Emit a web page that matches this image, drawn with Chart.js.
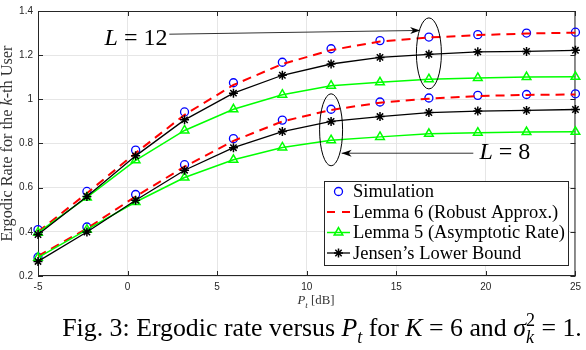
<!DOCTYPE html>
<html>
<head>
<meta charset="utf-8">
<script src="https://cdn.jsdelivr.net/npm/chart.js"></script>
<style>
  body { margin: 0; background: #fff; }
  #wrap { width: 586px; height: 350px; }
</style>
</head>
<body>
<div id="wrap"><canvas id="rateChart" width="586" height="350"></canvas></div>
<script>
// P_t sample points (dB)
const pt = [-5, -2.27, 0.45, 3.18, 5.91, 8.64, 11.36, 14.09, 16.82, 19.55, 22.27, 25];

// L = 12
const simL12 = [0.410, 0.583, 0.770, 0.943, 1.075, 1.168, 1.229, 1.266, 1.282, 1.293, 1.300, 1.304];
const robustL12 = [0.400, 0.575, 0.757, 0.930, 1.065, 1.160, 1.223, 1.262, 1.280, 1.291, 1.298, 1.302];
const asymL12 = [0.396, 0.556, 0.724, 0.859, 0.955, 1.021, 1.062, 1.077, 1.091, 1.097, 1.101, 1.102];
const jensenL12 = [0.388, 0.560, 0.744, 0.907, 1.028, 1.109, 1.160, 1.190, 1.204, 1.215, 1.217, 1.222];

// L = 8
const simL8 = [0.285, 0.422, 0.569, 0.704, 0.822, 0.906, 0.955, 0.988, 1.006, 1.018, 1.022, 1.025];
const robustL8 = [0.290, 0.415, 0.560, 0.695, 0.812, 0.900, 0.952, 0.985, 1.003, 1.015, 1.020, 1.022];
const asymL8 = [0.283, 0.410, 0.535, 0.646, 0.726, 0.782, 0.815, 0.830, 0.844, 0.849, 0.852, 0.853];
const jensenL8 = [0.266, 0.399, 0.543, 0.679, 0.781, 0.854, 0.900, 0.922, 0.940, 0.947, 0.950, 0.954];

const legendLabels = ["Simulation", "Lemma 6 (Robust Approx.)", "Lemma 5 (Asymptotic Rate)", "Jensen\u2019s Lower Bound"];

const SERIF = "'Liberation Serif', 'Times New Roman', serif";
const SANS = "'Liberation Sans', Arial, sans-serif";

const styles = {
  sim: {
    showLine: false, pointStyle: "circle", pointRadius: 4, pointBorderWidth: 1.3,
    pointBorderColor: "#0000ff", pointBackgroundColor: "rgba(0,0,0,0)", order: 4
  },
  robust: {
    borderColor: "#ff0000", borderWidth: 2, borderDash: [9, 6], pointRadius: 0, order: 3
  },
  asym: {
    borderColor: "#00ff00", borderWidth: 1.5, pointStyle: "triangle", pointRadius: 5,
    pointBorderWidth: 1.5, pointBorderColor: "#00ff00", pointBackgroundColor: "rgba(0,0,0,0)", order: 2
  },
  jensen: {
    borderColor: "#000000", borderWidth: 1.3, pointStyle: "star", pointRadius: 4.5,
    pointBorderWidth: 1.5, pointBorderColor: "#000000", order: 1
  }
};

function series(label, ys, style) {
  return Object.assign({
    label: label,
    data: pt.map((x, i) => ({ x: x, y: ys[i] })),
    clip: false,
    tension: 0
  }, style);
}

// rich text: parts {t, it, sub, sup}
function partFont(p, size) {
  const s = (p.sub || p.sup) ? size * 0.7 : size;
  return (p.it ? "italic " : "") + s + "px " + SERIF;
}
function partWidth(ctx, p, size) {
  ctx.font = partFont(p, size);
  let w = ctx.measureText(p.t).width;
  if (p.stack) {
    ctx.font = partFont({ sup: true }, size);
    w = Math.max(w, ctx.measureText(p.stack).width);
  }
  return w;
}
function richWidth(ctx, parts, size) {
  return parts.reduce((a, p) => a + partWidth(ctx, p, size), 0);
}
function drawRich(ctx, parts, size, cx, y) {
  let x = cx - richWidth(ctx, parts, size) / 2;
  ctx.textAlign = "left";
  parts.forEach((p) => {
    const w = partWidth(ctx, p, size);
    ctx.font = partFont(p, size);
    const dy = p.sub ? size * 0.28 : (p.sup ? -size * 0.38 : 0);
    ctx.fillText(p.t, x, y + dy);
    if (p.stack) {
      ctx.font = partFont({ sup: true }, size);
      ctx.fillText(p.stack, x, y - size * 0.38);
    }
    x += w;
  });
}
function fitSize(ctx, parts, target) {
  return 20 * target / richWidth(ctx, parts, 20);
}

function arrow(ctx, x1, y1, x2, y2) {
  ctx.beginPath();
  ctx.moveTo(x1, y1);
  ctx.lineTo(x2, y2);
  ctx.stroke();
  const a = Math.atan2(y2 - y1, x2 - x1);
  const len = 10, wid = 3.5;
  ctx.beginPath();
  ctx.moveTo(x2, y2);
  ctx.lineTo(x2 - len * Math.cos(a) + wid * Math.sin(a), y2 - len * Math.sin(a) - wid * Math.cos(a));
  ctx.lineTo(x2 - len * 0.7 * Math.cos(a), y2 - len * 0.7 * Math.sin(a));
  ctx.lineTo(x2 - len * Math.cos(a) - wid * Math.sin(a), y2 - len * Math.sin(a) + wid * Math.cos(a));
  ctx.closePath();
  ctx.fill();
}

const decor = {
  id: "decor",
  beforeDatasetsDraw(chart) {
    const { ctx, chartArea: a, scales } = chart;
    ctx.save();
    ctx.strokeStyle = "#262626";
    ctx.lineWidth = 1;
    ctx.strokeRect(a.left + 0.5, a.top + 0.5, a.right - a.left - 1, a.bottom - a.top - 1);
    ctx.beginPath();
    scales.x.ticks.forEach((t) => {
      const x = Math.round(scales.x.getPixelForValue(t.value)) + 0.5;
      ctx.moveTo(x, a.bottom); ctx.lineTo(x, a.bottom - 5);
      ctx.moveTo(x, a.top); ctx.lineTo(x, a.top + 5);
    });
    scales.y.ticks.forEach((t) => {
      const y = Math.round(scales.y.getPixelForValue(t.value)) + 0.5;
      ctx.moveTo(a.left, y); ctx.lineTo(a.left + 5, y);
      ctx.moveTo(a.right, y); ctx.lineTo(a.right - 5, y);
    });
    ctx.stroke();
    ctx.restore();
  },
  afterDraw(chart) {
    const { ctx, chartArea: a, scales } = chart;
    const X = (v) => scales.x.getPixelForValue(v);
    const Y = (v) => scales.y.getPixelForValue(v);
    ctx.save();

    // annotations
    ctx.strokeStyle = "#000";
    ctx.fillStyle = "#000";
    ctx.lineWidth = 1;
    ctx.beginPath();
    ctx.ellipse(X(16.82), Y(1.208), 12.5, 35.5, 0, 0, Math.PI * 2);
    ctx.stroke();
    ctx.beginPath();
    ctx.ellipse(X(11.36), Y(0.862), 11.5, 36, 0, 0, Math.PI * 2);
    ctx.stroke();
    ctx.strokeStyle = "#333";
    arrow(ctx, X(2.33), Y(1.295), X(16.33), Y(1.312));
    arrow(ctx, X(19.3), Y(0.756), X(11.95), Y(0.756));

    ctx.fillStyle = "#000";
    ctx.textBaseline = "alphabetic";
    const l12 = [{ t: "L", it: true }, { t: " = 12" }];
    const l8 = [{ t: "L", it: true }, { t: " = 8" }];
    const lsize = fitSize(ctx, l12, 63);
    drawRich(ctx, l12, lsize, X(0.47), Y(1.283) + lsize * 0.33);
    drawRich(ctx, l8, lsize, X(21.06), Y(0.765) + lsize * 0.33);

    // legend
    const box = { l: 324.5, t: 181.5, r: 568.5, b: 265.5 };
    ctx.fillStyle = "#fff";
    ctx.fillRect(box.l, box.t, box.r - box.l, box.b - box.t);
    ctx.strokeStyle = "#262626";
    ctx.lineWidth = 1;
    ctx.strokeRect(box.l, box.t, box.r - box.l, box.b - box.t);
    const rows = [191.5, 212, 232.5, 253];
    const sx1 = 327, sx2 = 350, sxm = 338.5;
    // simulation
    ctx.strokeStyle = "#0000ff"; ctx.lineWidth = 1.3;
    ctx.beginPath(); ctx.arc(sxm, rows[0], 4, 0, Math.PI * 2); ctx.stroke();
    // robust
    ctx.strokeStyle = "#ff0000"; ctx.lineWidth = 2; ctx.setLineDash([8, 7]);
    ctx.beginPath(); ctx.moveTo(sx1, rows[1]); ctx.lineTo(sx2, rows[1]); ctx.stroke();
    ctx.setLineDash([]);
    // asymptotic
    ctx.strokeStyle = "#00ff00"; ctx.lineWidth = 1.5;
    ctx.beginPath(); ctx.moveTo(sx1, rows[2]); ctx.lineTo(sx2, rows[2]); ctx.stroke();
    ctx.fillStyle = "rgba(0,0,0,0)";
    Chart.helpers.drawPoint(ctx, { pointStyle: "triangle", radius: 5, rotation: 0, borderWidth: 1.5 }, sxm, rows[2]);
    // jensen
    ctx.strokeStyle = "#000"; ctx.lineWidth = 1.3;
    ctx.beginPath(); ctx.moveTo(sx1, rows[3]); ctx.lineTo(sx2, rows[3]); ctx.stroke();
    ctx.lineWidth = 1.5;
    Chart.helpers.drawPoint(ctx, { pointStyle: "star", radius: 4.5, rotation: 0, borderWidth: 1.5 }, sxm, rows[3]);

    ctx.fillStyle = "#000";
    ctx.textAlign = "left";
    ctx.textBaseline = "middle";
    ctx.font = "20px " + SERIF;
    const legSize = 20 * 212 / ctx.measureText(legendLabels[2]).width;
    ctx.font = legSize + "px " + SERIF;
    legendLabels.forEach((txt, i) => ctx.fillText(txt, 353, rows[i] + 1));

    // axis labels
    ctx.fillStyle = "#333";
    ctx.textBaseline = "alphabetic";
    const xl = [{ t: "P", it: true }, { t: "t", it: true, sub: true }, { t: " [dB]" }];
    const xs = fitSize(ctx, xl, 37);
    drawRich(ctx, xl, xs, 316, 304);

    const yl = [{ t: "Ergodic Rate for the " }, { t: "k", it: true }, { t: "-th User" }];
    const ys = fitSize(ctx, yl, 196);
    ctx.save();
    ctx.translate(12, (a.top + a.bottom) / 2);
    ctx.rotate(-Math.PI / 2);
    drawRich(ctx, yl, ys, 0, 0);
    ctx.restore();

    // caption
    ctx.fillStyle = "#000";
    const cap = [
      { t: "Fig. 3: Ergodic rate versus " }, { t: "P", it: true }, { t: "t", it: true, sub: true },
      { t: " for " }, { t: "K", it: true }, { t: " = 6 and " }, { t: "\u03c3", it: true },
      { t: "k", it: true, sub: true, stack: "2" }, { t: " = 1." }
    ];
    const cs = fitSize(ctx, cap, 520);
    drawRich(ctx, cap, cs, 322, 336);
    ctx.restore();
  }
};

new Chart(document.getElementById("rateChart"), {
  type: "line",
  data: {
    datasets: [
      series("Simulation", simL12, styles.sim),
      series("Lemma 6 (Robust Approx.)", robustL12, styles.robust),
      series("Lemma 5 (Asymptotic Rate)", asymL12, styles.asym),
      series("Jensen's Lower Bound", jensenL12, styles.jensen),
      series("Simulation L8", simL8, styles.sim),
      series("Lemma 6 L8", robustL8, styles.robust),
      series("Lemma 5 L8", asymL8, styles.asym),
      series("Jensen L8", jensenL8, styles.jensen)
    ]
  },
  options: {
    responsive: false,
    devicePixelRatio: 1,
    animation: false,
    events: [],
    layout: { padding: { left: 0, top: 4, right: 8, bottom: 0 } },
    plugins: { legend: { display: false }, tooltip: { enabled: false } },
    scales: {
      x: {
        type: "linear",
        min: -5, max: 25,
        afterFit: (s) => { s.height = 74; },
        ticks: { stepSize: 5, padding: 5, color: "#262626", font: { family: SANS, size: 10 } },
        grid: { color: "#e6e6e6", drawTicks: false },
        border: { display: false }
      },
      y: {
        min: 0.2, max: 1.4,
        afterFit: (s) => { s.width = 38; },
        ticks: {
          stepSize: 0.2, padding: 5, color: "#262626", font: { family: SANS, size: 10 },
          callback: (v) => String(+v.toFixed(1))
        },
        grid: { color: "#e6e6e6", drawTicks: false },
        border: { display: false }
      }
    }
  },
  plugins: [decor]
});
</script>
</body>
</html>
